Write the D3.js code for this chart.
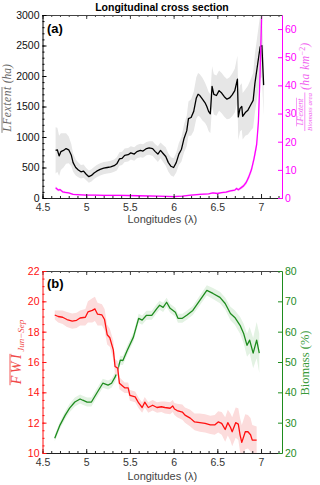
<!DOCTYPE html>
<html>
<head>
<meta charset="utf-8">
<script src="https://cdn.jsdelivr.net/npm/d3@7"></script>
<style>
  body { margin: 0; background: #fff; }
  svg { display: block; font-family: "Liberation Sans", Arial, sans-serif; }
</style>
</head>
<body>
<svg id="chart" width="320" height="485"></svg>
<script>
// ── Panel (a): burnt-area extent (left) and extent / biomass area (right) ──
const lonA = [4.65, 4.67, 4.69, 4.71, 4.74, 4.77, 4.80, 4.83, 4.85, 4.88, 4.91, 4.94, 4.97, 5.00, 5.03,
  5.06, 5.09, 5.12, 5.16, 5.20, 5.24, 5.28, 5.32, 5.35, 5.38, 5.41, 5.44, 5.48, 5.51, 5.55, 5.58, 5.62,
  5.65, 5.69, 5.72, 5.76, 5.79, 5.82, 5.85, 5.88, 5.91, 5.94, 5.97, 6.00, 6.03, 6.06, 6.09, 6.12, 6.15,
  6.17, 6.20, 6.23, 6.26, 6.28, 6.30, 6.33, 6.36, 6.38, 6.40, 6.42, 6.44, 6.46, 6.49, 6.52, 6.55, 6.58,
  6.61, 6.64, 6.67, 6.70, 6.73, 6.74, 6.76, 6.78, 6.79, 6.82, 6.85, 6.88, 6.91, 6.93, 6.96, 6.99, 7.01, 7.03];
const lfExtent = [780, 790, 690, 760, 780, 810, 790, 700, 580, 500, 460, 430, 440, 390, 350,
  370, 410, 440, 470, 490, 500, 510, 530, 560, 640, 650, 700, 710, 740, 720, 760, 780,
  770, 810, 820, 810, 760, 720, 780, 730, 680, 580, 520, 500, 580, 720, 800, 980, 1100,
  1300, 1320, 1420, 1640, 1700, 1680, 1620, 1560, 1500, 1420, 1380, 1830, 1700, 1680, 1760, 1720, 1660,
  1620, 1640, 1690, 1760, 1950, 1330, 1470, 1500, 1340, 1400, 1440, 1520, 1600, 1880, 2180, 2480, 2500, 1850];
const lfSpread = [380, 360, 330, 300, 280, 250, 220, 180, 150, 130, 120, 110, 110, 100, 100,
  100, 100, 100, 100, 100, 100, 100, 100, 110, 110, 110, 110, 110, 110, 110, 110, 110,
  110, 110, 110, 120, 120, 130, 130, 140, 150, 150, 150, 150, 160, 180, 200, 230, 250,
  280, 300, 320, 340, 350, 350, 350, 330, 320, 320, 320, 330, 330, 330, 330, 330, 330,
  330, 340, 350, 360, 380, 380, 380, 380, 380, 380, 400, 420, 450, 480, 500, 520, 520, 500];

const lonM = [4.65, 4.68, 4.70, 4.73, 4.76, 4.80, 4.85, 4.90, 5.00, 5.10, 5.20, 5.40, 5.60, 5.80, 6.00,
  6.10, 6.20, 6.30, 6.40, 6.45, 6.50, 6.55, 6.60, 6.65, 6.70, 6.72, 6.74, 6.77, 6.80, 6.83, 6.86,
  6.89, 6.92, 6.95, 6.97, 6.99, 7.01];
const lfPerBiomass = [3.6, 2.8, 3.0, 2.2, 2.0, 1.8, 1.3, 1.2, 1.0, 1.0, 0.9, 0.9, 0.8, 0.7, 0.5,
  0.7, 1.0, 1.3, 1.5, 1.8, 1.6, 1.9, 2.1, 2.5, 2.8, 3.4, 2.9, 3.6, 4.3, 5.5, 7.5,
  10, 14, 19, 27, 45, 68];
const lfPerBiomassSpread = [0.6, 0.5, 0.5, 0.4, 0.4, 0.3, 0.3, 0.3, 0.3, 0.3, 0.3, 0.3, 0.3, 0.3, 0.3,
  0.3, 0.3, 0.3, 0.3, 0.3, 0.3, 0.3, 0.4, 0.4, 0.4, 0.5, 0.5, 0.6, 0.7, 0.8, 1.0,
  1.2, 1.5, 2.0, 2.5, 3.0, 3.5];

// ── Panel (b): FWI Jun–Sep (left) and biomass share (right) ──
const lonF = [4.64, 4.68, 4.73, 4.78, 4.84, 4.89, 4.93, 4.99, 5.02, 5.07, 5.10, 5.13, 5.18, 5.21, 5.24,
  5.27, 5.31, 5.33, 5.36, 5.38, 5.44, 5.48, 5.50, 5.56, 5.60, 5.64, 5.67, 5.71, 5.76, 5.81, 5.86,
  5.90, 5.96, 5.99, 6.01, 6.04, 6.10, 6.13, 6.19, 6.24, 6.30, 6.36, 6.42, 6.47, 6.51, 6.55, 6.59,
  6.62, 6.65, 6.67, 6.71, 6.74, 6.76, 6.78, 6.82, 6.85, 6.88, 6.90, 6.95];
const fwi = [19.1, 19.0, 18.95, 18.8, 18.7, 18.75, 18.9, 18.95, 19.3, 19.4, 19.5, 19.15, 19.1, 18.8, 17.8,
  17.6, 16.8, 15.7, 15.6, 14.6, 14.3, 14.3, 13.8, 13.7, 13.3, 13.0, 13.35, 13.0, 13.15, 13.0, 13.05,
  13.0, 12.95, 13.1, 12.9, 12.8, 12.7, 12.5, 12.3, 12.05, 12.0, 11.95, 11.85, 11.85, 12.05, 11.95, 11.55,
  12.0, 11.7, 11.4, 12.0, 11.9, 11.2, 10.7, 11.4, 11.4, 11.2, 10.85, 10.85];
const fwiSpread = [0.3, 0.4, 0.45, 0.5, 0.5, 0.5, 0.5, 0.55, 0.7, 0.8, 0.8, 0.75, 0.7, 0.7, 0.65,
  0.6, 0.6, 0.5, 0.45, 0.4, 0.35, 0.35, 0.35, 0.35, 0.35, 0.35, 0.35, 0.35, 0.35, 0.35, 0.35,
  0.4, 0.4, 0.4, 0.4, 0.45, 0.5, 0.5, 0.55, 0.55, 0.6, 0.6, 0.6, 0.65, 0.7, 0.75, 0.8,
  0.85, 0.9, 0.95, 1.0, 1.05, 1.1, 1.15, 1.15, 1.1, 1.1, 1.0, 0.9];

const lonB = [4.64, 4.70, 4.76, 4.81, 4.87, 4.93, 4.96, 5.01, 5.06, 5.12, 5.19, 5.25, 5.29, 5.33, 5.36,
  5.39, 5.42, 5.47, 5.54, 5.60, 5.64, 5.69, 5.75, 5.81, 5.84, 5.88, 5.92, 5.96, 6.02, 6.05, 6.10,
  6.15, 6.22, 6.30, 6.38, 6.45, 6.53, 6.59, 6.65, 6.70, 6.76, 6.80, 6.84, 6.87, 6.91, 6.95, 6.98];
const biomass = [24.9, 29.2, 32.5, 34.8, 36.8, 37.8, 37.4, 36.8, 36.8, 39.7, 43.0, 42.4, 43.0, 45.0, 47.3,
  50.6, 50.5, 53.9, 58.2, 64.4, 63.8, 65.4, 65.4, 67.7, 68.7, 68.0, 69.7, 67.7, 66.4, 64.4, 64.4,
  65.4, 67.0, 70.3, 73.6, 72.6, 71.3, 69.3, 66.0, 64.7, 62.1, 59.5, 55.5, 57.2, 52.9, 57.2, 52.9];
const biomassSpread = [1.0, 1.2, 1.3, 1.4, 1.5, 1.5, 1.5, 1.5, 1.5, 1.5, 1.5, 1.5, 1.5, 1.5, 1.5,
  1.5, 1.5, 1.5, 1.5, 1.5, 1.5, 1.5, 1.5, 1.5, 1.5, 1.5, 1.5, 1.5, 1.5, 1.5, 1.5,
  1.5, 1.5, 1.6, 1.7, 1.8, 1.9, 2.0, 2.2, 2.4, 2.8, 3.2, 3.8, 4.3, 5.0, 6.0, 6.5];

const lonTicks = [4.5, 5, 5.5, 6, 6.5, 7];

const svg = d3.select("#chart");
const X0 = 42.5, X1 = 282;
const x = d3.scaleLinear().domain([4.5, 7.24]).range([X0, X1]);

const col = {
  lf: "#000", lfBand: "#e6e6e6",
  mag: "#ff00ff", magBand: "#fbd0fb",
  red: "#ff1010", redBand: "#fcdcdc",
  green: "#1e8c1e", greenBand: "#e3f2e3",
};

// ── generic helpers ──
function zip(xs, ys, sp) {
  return xs.map((v, i) => ({ x: v, y: ys[i], s: sp[i] }));
}

function drawSeries(g, data, yScale, line, band) {
  g.append("path")
    .datum(data)
    .attr("fill", band)
    .attr("d", d3.area().x(d => x(d.x)).y0(d => yScale(d.y - d.s)).y1(d => yScale(d.y + d.s)));
  g.append("path")
    .datum(data)
    .attr("fill", "none")
    .attr("stroke", line)
    .attr("stroke-width", 1.3)
    .attr("stroke-linejoin", "round")
    .attr("d", d3.line().x(d => x(d.x)).y(d => yScale(d.y)));
}

function styleAxis(g, color, fontSize) {
  g.selectAll("path.domain").attr("stroke", color);
  g.selectAll("line").attr("stroke", color);
  g.selectAll("text").attr("fill", color).style("font-size", fontSize + "px")
    .style("font-family", '"Liberation Sans", Arial, sans-serif');
}

function drawFrame(top, bot, yL, yR, leftOpt, rightOpt, id) {
  // clip
  svg.append("clipPath").attr("id", id)
    .append("rect").attr("x", X0).attr("y", top).attr("width", X1 - X0).attr("height", bot - top);

  // minor x ticks on bottom and top
  const minorX = d3.range(4.5, 7.21, 0.1);
  svg.append("g").attr("transform", `translate(0,${bot})`)
    .call(d3.axisBottom(x).tickValues(minorX).tickSize(-2).tickFormat(""))
    .call(g => g.select(".domain").remove())
    .call(g => styleAxis(g, "#222", 10));
  svg.append("g").attr("transform", `translate(0,${top})`)
    .call(d3.axisTop(x).tickValues(minorX).tickSize(-2).tickFormat(""))
    .call(g => g.select(".domain").remove())
    .call(g => styleAxis(g, "#444", 10));

  // top edge
  svg.append("g").attr("transform", `translate(0,${top})`)
    .call(d3.axisTop(x).tickValues(lonTicks).tickSize(-4).tickSizeOuter(0).tickFormat(""))
    .call(g => styleAxis(g, "#444", 10));

  // bottom x axis
  svg.append("g").attr("transform", `translate(0,${bot})`)
    .call(d3.axisBottom(x).tickValues(lonTicks).tickSize(-4).tickSizeOuter(0).tickPadding(6)
      .tickFormat(d => String(d)))
    .call(g => styleAxis(g, "#222", 10.5))
    .call(g => g.selectAll("text").attr("fill", "#333"));

  // left axis
  svg.append("g").attr("transform", `translate(${X0},0)`)
    .call(d3.axisLeft(yL).tickValues(leftOpt.minor).tickSize(-2).tickFormat(""))
    .call(g => g.select(".domain").remove())
    .call(g => styleAxis(g, leftOpt.color, 10));
  svg.append("g").attr("transform", `translate(${X0},0)`)
    .call(d3.axisLeft(yL).tickValues(leftOpt.ticks).tickSize(-4).tickSizeOuter(0).tickPadding(3)
      .tickFormat(d => String(d)))
    .call(g => styleAxis(g, leftOpt.color, 10.5))
    .call(g => g.selectAll("text").attr("fill", leftOpt.textColor));

  // right axis
  svg.append("g").attr("transform", `translate(${X1},0)`)
    .call(d3.axisRight(yR).tickValues(rightOpt.ticks).tickSize(-4).tickSizeOuter(0).tickPadding(3)
      .tickFormat(d => String(d)))
    .call(g => styleAxis(g, rightOpt.color, 10.5));
}

function xLabel(y) {
  svg.append("text")
    .attr("x", (X0 + X1) / 2).attr("y", y)
    .attr("text-anchor", "middle")
    .attr("fill", "#444")
    .style("font-size", "11px")
    .text("Longitudes (λ)");
}

// ═══════════════ Panel (a) ═══════════════
const aTop = 15, aBot = 198;
const yA = d3.scaleLinear().domain([0, 3000]).range([aBot, aTop]);
const yA2 = d3.scaleLinear().domain([0, 65]).range([aBot, aTop]);

const gA = svg.append("g").attr("clip-path", "url(#clipA)");
drawSeries(gA, zip(lonA, lfExtent, lfSpread), yA, col.lf, col.lfBand);
drawSeries(gA, zip(lonM, lfPerBiomass, lfPerBiomassSpread), yA2, col.mag, col.magBand);

drawFrame(aTop, aBot, yA, yA2,
  { ticks: d3.range(0, 3001, 500), minor: d3.range(0, 3001, 100), color: "#000", textColor: "#111" },
  { ticks: d3.range(0, 61, 10), color: col.mag }, "clipA");

svg.append("text")
  .attr("x", 162).attr("y", 11)
  .attr("text-anchor", "middle")
  .style("font-size", "10.5px").style("font-weight", "bold")
  .text("Longitudinal cross section");

svg.append("text")
  .attr("x", 47).attr("y", 33)
  .style("font-size", "13px").style("font-weight", "bold")
  .text("(a)");

xLabel(223);

// left label: overline LFextent (ha)
{
  const g = svg.append("g").attr("transform", "translate(11,98) rotate(-90)");
  const t = g.append("text")
    .attr("text-anchor", "middle")
    .attr("fill", "#666")
    .style("font-family", '"Liberation Serif", "Times New Roman", serif')
    .style("font-style", "italic")
    .style("font-size", "11.5px");
  const m = t.append("tspan").style("letter-spacing", "0.6px").text("LFextent");
  t.append("tspan").text(" (ha)");
  const b = m.node().getBBox();
  g.append("line").attr("x1", b.x).attr("x2", b.x + b.width - 1)
    .attr("y1", b.y + 1).attr("y2", b.y + 1).attr("stroke", "#666").attr("stroke-width", 0.8);
}

// right label: LFextent / Biomass area (ha km^-2)
{
  const c = "#f060f0";
  const g = svg.append("g").attr("transform", "translate(306,90) rotate(-90)");
  const serif = '"Liberation Serif", "Times New Roman", serif';
  const num = g.append("text").attr("x", -22).attr("y", -3).attr("text-anchor", "middle")
    .attr("fill", c).style("font-family", serif).style("font-style", "italic").style("font-size", "7.5px")
    .text("LFextent");
  const den = g.append("text").attr("x", -22).attr("y", 6).attr("text-anchor", "middle")
    .attr("fill", c).style("font-family", serif).style("font-style", "italic").style("font-size", "7px")
    .text("Biomass area");
  const bn = num.node().getBBox();
  const bd = den.node().getBBox();
  g.append("line").attr("x1", bn.x).attr("x2", bn.x + bn.width)
    .attr("y1", bn.y + 0.5).attr("y2", bn.y + 0.5).attr("stroke", c).attr("stroke-width", 0.6);
  g.append("line").attr("x1", bd.x).attr("x2", bd.x + bd.width)
    .attr("y1", -1.2).attr("y2", -1.2).attr("stroke", c).attr("stroke-width", 0.7);
  const u = g.append("text").attr("x", 0).attr("y", 3)
    .attr("fill", c).style("font-family", serif).style("font-style", "italic").style("font-size", "11.5px");
  u.append("tspan").style("letter-spacing", "0.5px").text("(ha km");
  u.append("tspan").attr("dy", -4).style("font-size", "8px").style("font-style", "normal").text("−2");
  u.append("tspan").attr("dy", 4).text(")");
}

// ═══════════════ Panel (b) ═══════════════
const bTop = 271, bBot = 453;
const yB = d3.scaleLinear().domain([10, 22]).range([bBot, bTop]);
const yB2 = d3.scaleLinear().domain([20, 80]).range([bBot, bTop]);

const gB = svg.append("g").attr("clip-path", "url(#clipB)");
drawSeries(gB, zip(lonB, biomass, biomassSpread), yB2, col.green, col.greenBand);
drawSeries(gB, zip(lonF, fwi, fwiSpread), yB, col.red, col.redBand);

drawFrame(bTop, bBot, yB, yB2,
  { ticks: d3.range(10, 22.1, 2), minor: d3.range(10, 22.1, 0.5), color: col.red, textColor: col.red },
  { ticks: d3.range(20, 81, 10), color: col.green }, "clipB");

svg.append("text")
  .attr("x", 47).attr("y", 288)
  .style("font-size", "13px").style("font-weight", "bold")
  .text("(b)");

xLabel(480);

// left label: overline FWI_{Jun-Sep}
{
  const c = "#f04848";
  const g = svg.append("g").attr("transform", "translate(21,352) rotate(-90)");
  const t = g.append("text").attr("text-anchor", "middle")
    .attr("fill", c)
    .style("font-family", '"Liberation Serif", "Times New Roman", serif')
    .style("font-style", "italic");
  const m = t.append("tspan").style("font-size", "14px").style("letter-spacing", "2.5px").text("FWI");
  t.append("tspan").attr("dy", 3).style("font-size", "9px").text("Jun−Sep");
  const b = m.node().getBBox();
  g.append("line").attr("x1", b.x).attr("x2", b.x + b.width - 2)
    .attr("y1", b.y + 1).attr("y2", b.y + 1).attr("stroke", c).attr("stroke-width", 0.9);
}

// right label: Biomass (%)
svg.append("text")
  .attr("transform", "translate(309,363) rotate(-90)")
  .attr("text-anchor", "middle")
  .attr("fill", "#3a9a3a")
  .style("font-family", '"Liberation Serif", "Times New Roman", serif')
  .style("font-size", "12.5px")
  .text("Biomass (%)");
</script>
</body>
</html>
